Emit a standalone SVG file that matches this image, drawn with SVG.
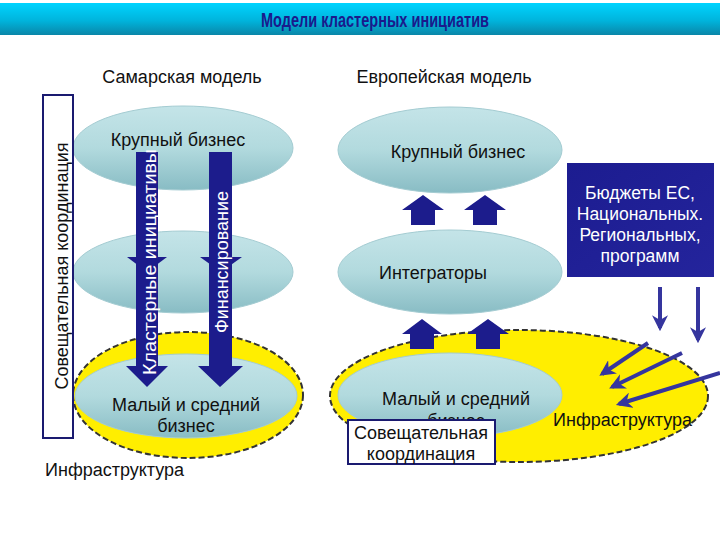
<svg xmlns="http://www.w3.org/2000/svg" width="720" height="540" viewBox="0 0 720 540">
<defs>
<linearGradient id="title" x1="0" y1="0" x2="0" y2="1">
<stop offset="0" stop-color="#00d4ff"/>
<stop offset="0.55" stop-color="#00b4dc"/>
<stop offset="1" stop-color="#0a86a8"/>
</linearGradient>
<linearGradient id="teal" x1="0" y1="0" x2="0" y2="1">
<stop offset="0" stop-color="#c4e4e8"/>
<stop offset="0.5" stop-color="#b2dade"/>
<stop offset="1" stop-color="#88bcc4"/>
</linearGradient>
<linearGradient id="navy" x1="0" y1="0" x2="1" y2="1">
<stop offset="0" stop-color="#1c1c90"/>
<stop offset="1" stop-color="#24249c"/>
</linearGradient>
<marker id="thin" viewBox="0 0 10 10" refX="8" refY="5" markerWidth="4" markerHeight="4" orient="auto" markerUnits="strokeWidth">
<path d="M0,0 L10,5 L0,10 L3,5 Z" fill="#35359e"/>
</marker>
</defs>
<style>
.t{font-family:"Liberation Sans",Arial,sans-serif;fill:#111;font-size:18px;}
.w{fill:#fff;}
.ell{fill:url(#teal);stroke:#a4ccd2;stroke-width:1;}
.yel{fill:#ffee00;stroke:#333;stroke-width:2;stroke-dasharray:6,3;}
.box{fill:#fff;stroke:#1a1a70;stroke-width:2;}
.big{fill:#1c1c8c;}
.thin{stroke:#35359e;stroke-width:4;fill:none;marker-end:url(#thin);}
</style>
<rect width="720" height="540" fill="#ffffff"/>
<g id="title-bar">
<rect x="0" y="3" width="720" height="32" fill="url(#title)"/>
<text x="261" y="27" class="t" textLength="228" lengthAdjust="spacingAndGlyphs" style="font-size:20px;font-weight:bold;fill:#1a1a8c">Модели кластерных инициатив</text>
</g>
<g id="headers">
<text x="182" y="83" text-anchor="middle" class="t">Самарская модель</text>
<text x="444" y="83" text-anchor="middle" class="t">Европейская модель</text>
</g>
<g id="samara-infra">
<ellipse cx="188" cy="395" rx="115" ry="63" class="yel"/>
<text x="45" y="476" class="t">Инфраструктура</text>
</g>
<g id="samara-sme">
<ellipse cx="186" cy="396" rx="111" ry="42" class="ell"/>
<text x="186" y="411" text-anchor="middle" class="t">Малый и средний</text>
<text x="186" y="432" text-anchor="middle" class="t">бизнес</text>
</g>
<g id="samara-mid">
<ellipse cx="183" cy="272" rx="110" ry="41" class="ell"/>
</g>
<g id="samara-large">
<ellipse cx="183" cy="148" rx="110" ry="42" class="ell"/>
<text x="178" y="146" text-anchor="middle" class="t">Крупный бизнес</text>
</g>
<g id="samara-coord">
<rect x="43" y="95" width="30" height="343" class="box"/>
<text transform="translate(68,266) rotate(-90)" text-anchor="middle" class="t">Совещательная координация</text>
</g>
<g id="eu-infra">
<ellipse cx="519" cy="396" rx="189" ry="66" class="yel"/>
<text x="553" y="426" class="t">Инфраструктура</text>
</g>
<g id="eu-sme">
<ellipse cx="450" cy="395" rx="112" ry="42" class="ell"/>
<text x="456" y="405" text-anchor="middle" class="t">Малый и средний</text>
<text x="456" y="427" text-anchor="middle" class="t">бизнес</text>
</g>
<g id="eu-coord">
<rect x="348" y="420" width="147" height="44" class="box"/>
<text x="421" y="439" text-anchor="middle" class="t">Совещательная</text>
<text x="421" y="460" text-anchor="middle" class="t">координация</text>
</g>
<g id="eu-large">
<ellipse cx="450" cy="150" rx="112" ry="43" class="ell"/>
<text x="458" y="158" text-anchor="middle" class="t">Крупный бизнес</text>
</g>
<g id="eu-integrators">
<ellipse cx="450" cy="272" rx="112" ry="42" class="ell"/>
<text x="433" y="279" text-anchor="middle" class="t">Интеграторы</text>
</g>
<g id="budgets">
<rect x="567" y="163" width="147" height="114" fill="url(#navy)"/>
<text x="640" y="199" text-anchor="middle" class="t w" style="font-size:17.5px">Бюджеты ЕС,</text>
<text x="640" y="220" text-anchor="middle" class="t w" style="font-size:17.5px">Национальных.</text>
<text x="640" y="241" text-anchor="middle" class="t w" style="font-size:17.5px">Региональных,</text>
<text x="640" y="262" text-anchor="middle" class="t w" style="font-size:17.5px">программ</text>
</g>
<g id="connectors">
<g id="arrow-initiatives">
<polygon points="127,257 167,257 147,272" class="big"/>
<polygon points="136,152 158,152 158,366 168,366 147,387 126,366 136,366" class="big"/>
<text transform="translate(156,262) rotate(-90)" text-anchor="middle" class="t w" textLength="226" lengthAdjust="spacingAndGlyphs">Кластерные инициативы</text>
</g>
<g id="arrow-finance">
<polygon points="200,257 242,257 221,272" class="big"/>
<polygon points="209,152 232,152 232,366 243,366 220,387 198,366 209,366" class="big"/>
<text transform="translate(228,262) rotate(-90)" text-anchor="middle" class="t w">Финансирование</text>
</g>
<polygon points="402,210 423,195 444,210 435,210 435,225 411,225 411,210" class="big"/>
<polygon points="464,210 485,195 506,210 497,210 497,225 473,225 473,210" class="big"/>
<polygon points="402,334 422,319 442,334 434,334 434,349 410,349 410,334" class="big"/>
<polygon points="467,334 488,319 509,334 500,334 500,349 476,349 476,334" class="big"/>
<line x1="660" y1="287" x2="660" y2="328" class="thin"/>
<line x1="698" y1="287" x2="698" y2="340" class="thin"/>
<line x1="648" y1="343" x2="602" y2="374" class="thin"/>
<line x1="682" y1="353" x2="612" y2="387" class="thin"/>
<line x1="720" y1="373" x2="619" y2="404" class="thin"/>
</g>
</svg>
